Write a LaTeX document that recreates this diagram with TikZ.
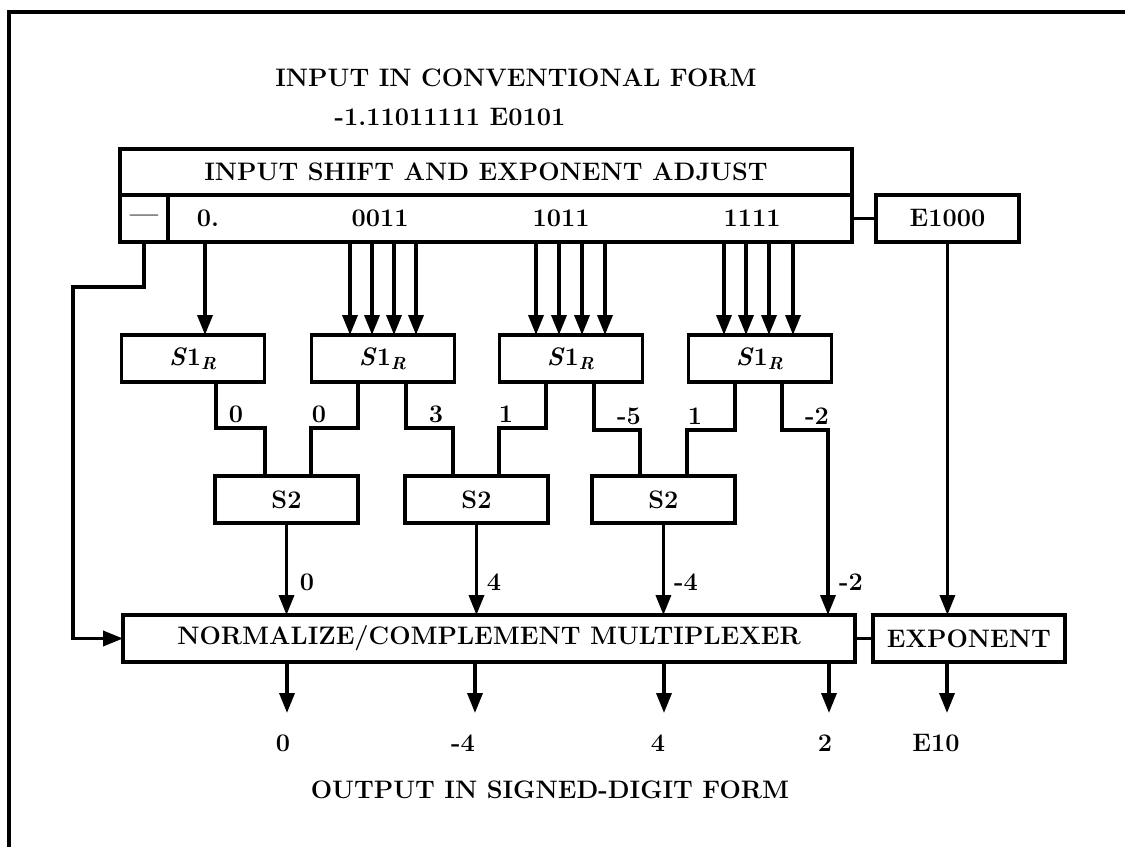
\documentclass[tikz,border=0pt]{standalone}
\usepackage{fontspec}
\usetikzlibrary{arrows.meta, positioning}

\begin{document}
\begin{tikzpicture}[
    x=0.02cm, y=-0.02cm,
    font=\fontsize{14.4}{17}\selectfont\bfseries,
    blkbox/.style={draw, line width=2pt, outer sep=0pt, inner sep=2pt, minimum height=0.94cm},
    sonebox/.style={blkbox, minimum width=2.86cm},
    stwobox/.style={blkbox, minimum width=2.86cm},
    lab/.style={inner sep=1pt},
    wire/.style={line width=2pt},
    arrow/.style={-{Triangle[length=4mm, width=3mm]}, line width=2pt}
]
\useasboundingbox (0,0) rectangle (1125,847);

% Frame
\draw[wire] (9,847) -- (9,12) -- (1125,12);

% Input
\node (intitle) at (516,78) {INPUT IN CONVENTIONAL FORM};
\node (inval) at (450,117) {-1.11011111 E0101};

% Input shift and exponent adjust
\node (shift) [blkbox, minimum width=14.64cm, minimum height=0.92cm] at (486,172) {INPUT SHIFT AND EXPONENT ADJUST};
\node (minus) [blkbox, minimum width=0.96cm] at (144,218.5) {---};
\node (digits) [blkbox, minimum width=13.68cm] at (510,218.5) {};
\node (d0) [lab] at (208,218) {0.};
\node (d1) [lab] at (380,218) {0011};
\node (d2) [lab] at (561,218) {1011};
\node (d3) [lab] at (752,218) {1111};
\node (e1000) [blkbox, minimum width=2.86cm, right=0.48cm of digits] {E1000};

% S1 stage
\node (s1a) [sonebox] at (193,358.5) {\textit{S}1\textsubscript{\textit{R}}};
\node (s1b) [sonebox, right=0.94cm of s1a] {\textit{S}1\textsubscript{\textit{R}}};
\node (s1c) [sonebox, right=0.9cm of s1b] {\textit{S}1\textsubscript{\textit{R}}};
\node (s1d) [sonebox, right=0.92cm of s1c] {\textit{S}1\textsubscript{\textit{R}}};

% S2 stage
\node (s2a) [stwobox] at (286.5,499.5) {S2};
\node (s2b) [stwobox, right=0.94cm of s2a] {S2};
\node (s2c) [stwobox, right=0.88cm of s2b] {S2};

% Multiplexer
\node (mux) [blkbox, minimum width=14.64cm] at (489,638.5) {NORMALIZE/COMPLEMENT MULTIPLEXER};
\node (expo) [blkbox, minimum width=3.84cm, right=0.36cm of mux] {EXPONENT};

% Output
\coordinate (o1) at (287,713);
\coordinate (o2) at (475,713);
\coordinate (o3) at (664,713);
\coordinate (o4) at (829,713);
\coordinate (o5) at (947,713);
\node (v1) [lab] at (283,743) {0};
\node (v2) [lab] at (463,743) {-4};
\node (v3) [lab] at (658,743) {4};
\node (v4) [lab] at (825,743) {2};
\node (v5) [lab] at (936,743) {E10};
\node (outtitle) at (550,790) {OUTPUT IN SIGNED-DIGIT FORM};

% Shift outputs
\draw [arrow] (digits.south -| 205,0) -- (s1a.north -| 205,0);
\draw [arrow] (digits.south -| 350,0) -- (s1b.north -| 350,0);
\draw [arrow] (digits.south -| 372,0) -- (s1b.north -| 372,0);
\draw [arrow] (digits.south -| 394,0) -- (s1b.north -| 394,0);
\draw [arrow] (digits.south -| 416,0) -- (s1b.north -| 416,0);
\draw [arrow] (digits.south -| 536,0) -- (s1c.north -| 536,0);
\draw [arrow] (digits.south -| 559,0) -- (s1c.north -| 559,0);
\draw [arrow] (digits.south -| 582,0) -- (s1c.north -| 582,0);
\draw [arrow] (digits.south -| 605,0) -- (s1c.north -| 605,0);
\draw [arrow] (digits.south -| 724,0) -- (s1d.north -| 724,0);
\draw [arrow] (digits.south -| 746,0) -- (s1d.north -| 746,0);
\draw [arrow] (digits.south -| 769,0) -- (s1d.north -| 769,0);
\draw [arrow] (digits.south -| 793,0) -- (s1d.north -| 793,0);
\draw [wire] (digits.east) -- (e1000.west);

% S1 to S2
\draw [wire] (s1a.south -| 216,0) |- (265,428) -- (s2a.north -| 265,0);
\draw [wire] (s1b.south -| 358,0) |- (311,428) -- (s2a.north -| 311,0);
\draw [wire] (s1b.south -| 406,0) |- (453,428) -- (s2b.north -| 453,0);
\draw [wire] (s1c.south -| 546,0) |- (499,428) -- (s2b.north -| 499,0);
\draw [wire] (s1c.south -| 594,0) |- (640,430) -- (s2c.north -| 640,0);
\draw [wire] (s1d.south -| 735,0) |- (687,430) -- (s2c.north -| 687,0);
\draw [arrow] (s1d.south -| 782,0) |- (828,430) -- (mux.north -| 828,0);
\node (j1) [lab] at (236,414) {0};
\node (j2) [lab] at (319,414) {0};
\node (j3) [lab] at (436,414) {3};
\node (j4) [lab] at (506,414) {1};
\node (j5) [lab] at (629,416) {-5};
\node (j6) [lab] at (695,416) {1};
\node (j7) [lab] at (817,416) {-2};

% S2 to multiplexer
\draw [arrow] (s2a.south) -- (s2a.south |- mux.north);
\draw [arrow] (s2b.south) -- (s2b.south |- mux.north);
\draw [arrow] (s2c.south) -- (s2c.south |- mux.north);
\draw [arrow] (e1000.south) -- (e1000.south |- expo.north);
\draw [arrow] (minus.south) |- (73,287) |- (mux.west);
\draw [wire] (mux.east) -- (expo.west);
\node (m1) [lab] at (307,582) {0};
\node (m2) [lab] at (494,582) {4};
\node (m3) [lab] at (686,582) {-4};
\node (m4) [lab] at (851,582) {-2};

% Multiplexer outputs
\draw [arrow] (mux.south -| o1) -- (o1);
\draw [arrow] (mux.south -| o2) -- (o2);
\draw [arrow] (mux.south -| o3) -- (o3);
\draw [arrow] (mux.south -| o4) -- (o4);
\draw [arrow] (expo.south -| o5) -- (o5);

\end{tikzpicture}
\end{document}
